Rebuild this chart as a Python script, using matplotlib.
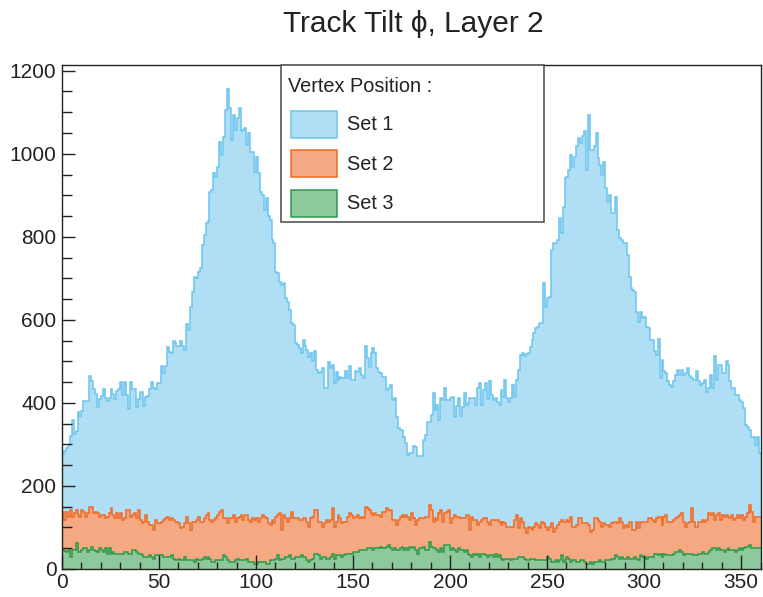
import numpy as np
import matplotlib
matplotlib.use("Agg")
import matplotlib.pyplot as plt
from matplotlib.ticker import MultipleLocator
from matplotlib.patches import Rectangle

plt.rcParams['font.family'] = ['Liberation Sans', 'DejaVu Sans']

# Histogram binning: 360 one-degree bins in phi
bin_edges = np.arange(0, 361, 1)

# Set 1 bin contents
set1 = [
    276, 284, 292, 298, 320, 360, 325, 332, 377, 369,
    381, 405, 405, 405, 464, 453, 433, 421, 389, 409,
    417, 433, 413, 405, 413, 433, 421, 409, 429, 433,
    451, 419, 451, 419, 385, 451, 433, 433, 389, 409,
    427, 427, 393, 415, 417, 433, 451, 437, 433, 449,
    449, 490, 473, 490, 534, 522, 520, 548, 544, 536,
    536, 548, 536, 528, 590, 575, 632, 668, 704, 700,
    716, 724, 781, 805, 833, 837, 909, 913, 953, 945,
    969, 1029, 997, 1041, 1106, 1156, 1110, 1033, 1094, 1058,
    1086, 1110, 1054, 1058, 1062, 1021, 1050, 1005, 1005, 957,
    993, 953, 909, 901, 865, 893, 849, 841, 793, 785,
    716, 712, 692, 684, 688, 652, 644, 624, 592, 588,
    544, 540, 532, 520, 552, 536, 528, 511, 520, 500,
    524, 479, 471, 475, 483, 435, 435, 499, 483, 491,
    447, 475, 455, 462, 459, 459, 478, 459, 490, 455,
    455, 477, 475, 483, 467, 459, 536, 507, 487, 520,
    532, 520, 483, 475, 471, 463, 463, 431, 435, 443,
    407, 411, 367, 339, 335, 335, 319, 303, 275, 279,
    279, 297, 295, 271, 271, 271, 311, 323, 355, 355,
    371, 424, 383, 395, 359, 411, 407, 436, 407, 407,
    411, 415, 367, 393, 411, 369, 391, 424, 395, 399,
    411, 411, 411, 395, 436, 448, 395, 432, 448, 409,
    452, 419, 407, 411, 403, 395, 432, 415, 456, 411,
    403, 411, 444, 415, 456, 480, 515, 520, 512, 518,
    520, 535, 552, 568, 580, 584, 592, 592, 688, 632,
    652, 656, 769, 785, 785, 793, 845, 809, 872, 941,
    945, 961, 998, 969, 993, 1018, 1038, 1026, 1042, 1054,
    961, 1094, 1010, 1010, 1018, 1050, 990, 973, 949, 981,
    917, 885, 901, 857, 857, 897, 817, 797, 793, 785,
    785, 757, 704, 676, 672, 668, 620, 596, 620, 604,
    608, 584, 580, 552, 552, 524, 516, 554, 460, 504,
    476, 472, 452, 444, 439, 452, 468, 480, 468, 480,
    468, 472, 484, 464, 460, 456, 456, 476, 452, 444,
    448, 456, 427, 435, 468, 435, 512, 456, 492, 492,
    472, 472, 500, 492, 452, 435, 435, 419, 419, 407,
    403, 387, 347, 343, 335, 319, 319, 299, 319, 279,
]

# Set 2 bin contents
set2 = [
    138, 118, 138, 126, 142, 126, 134, 142, 130, 126,
    142, 138, 126, 134, 150, 150, 134, 138, 134, 126,
    130, 130, 122, 126, 134, 147, 130, 122, 134, 122,
    134, 118, 122, 142, 142, 126, 130, 134, 122, 142,
    118, 110, 114, 130, 114, 106, 106, 94, 118, 110,
    110, 114, 118, 122, 126, 118, 122, 118, 114, 114,
    110, 98, 102, 110, 126, 110, 94, 114, 114, 118,
    126, 114, 114, 122, 130, 134, 118, 114, 118, 122,
    130, 138, 142, 122, 122, 110, 122, 122, 130, 114,
    122, 126, 130, 118, 130, 130, 118, 114, 122, 118,
    122, 114, 122, 130, 126, 122, 110, 106, 118, 110,
    126, 130, 134, 94, 130, 122, 114, 122,
    138, 122, 122, 122, 118, 118, 122, 122, 114, 102,
    122, 126, 142, 142, 114, 114, 102, 110, 118, 114,
    118, 146, 102, 114, 130, 122, 110, 114, 114, 126,
    134, 130, 122, 126, 130, 122, 126, 122, 150, 146,
    142, 134, 130, 134, 130, 130, 126, 138, 138, 146,
    142, 142, 118, 118, 106, 118, 126, 130, 126, 130,
    126, 118, 134, 122, 106, 118, 122, 122, 122, 126,
    126, 154, 142, 114, 122, 118, 134, 142, 114, 134,
    138, 142, 110, 122, 130, 126, 126, 122, 122, 122,
    130, 130, 94, 126, 118, 118, 106, 114, 118, 122,
    122, 114, 106, 118, 118, 118, 118, 114, 106, 114,
    110, 102, 102, 102, 102, 118, 130, 98,
    122, 114, 98, 86, 102, 98, 94, 102, 110, 106,
    98, 114, 110, 102, 94, 102, 110, 90, 98, 106,
    114, 118, 114, 114, 118, 114, 126, 102, 102, 106,
    122, 122, 110, 110, 110, 106, 90, 94, 122, 122,
    118, 114, 102, 110, 106, 106, 102, 110, 114, 114,
    110, 122, 114, 98, 106, 102, 114, 114, 94, 94,
    114, 98, 114, 114, 114, 114, 122, 122, 118, 114,
    122, 126, 126, 106, 126, 130, 114, 114, 114, 118,
    122, 126, 130, 134, 114, 102, 110, 114, 146, 114,
    102, 102, 114, 114, 118, 114, 118, 134, 130, 134,
    118, 130, 134, 118, 130, 126, 130, 126, 122, 130,
    118, 122, 130, 122, 130, 118, 126, 134, 154, 138,
    114, 126, 126, 126,
]

# Set 3 bin contents
set3 = [
    46, 43, 41, 46, 29, 46, 46, 62, 41, 41,
    46, 50, 50, 41, 46, 54, 46, 43, 41, 50,
    46, 41, 50, 37, 51, 37, 41, 37, 37, 37,
    37, 37, 40, 40, 37, 37, 46, 46, 41, 37,
    37, 33, 29, 29, 29, 33, 29, 25, 33, 33,
    33, 33, 29, 29, 29, 29, 33, 25, 21, 21,
    25, 21, 21, 29, 21, 21, 21, 21, 17, 25,
    21, 21, 25, 29, 25, 29, 25, 17, 17, 21,
    21, 21, 21, 33, 29, 21, 17, 17, 17, 21,
    25, 21, 21, 21, 21, 25, 17, 17, 17, 13,
    13, 17, 17, 17, 17, 13, 13, 21, 21, 21,
    25, 33, 21, 25, 25, 29, 29, 33,
    25, 25, 29, 29, 29, 33, 29, 29, 21, 17,
    21, 25, 37, 37, 33, 25, 29, 29, 25, 25,
    29, 37, 25, 33, 33, 33, 29, 33, 37, 35,
    35, 37, 41, 41, 41, 46, 46, 46, 46, 50,
    50, 50, 46, 50, 50, 51, 54, 50, 51, 54,
    58, 50, 46, 50, 46, 46, 50, 54, 46, 50,
    46, 54, 50, 54, 46, 37, 50, 50, 54, 46,
    46, 66, 54, 50, 50, 46, 41, 50, 41, 58,
    58, 58, 46, 50, 46, 41, 50, 46, 46, 41,
    46, 37, 33, 29, 37, 33, 37, 29, 37, 37,
    33, 29, 33, 33, 29, 37, 29, 33, 25, 21,
    25, 25, 25, 21, 25, 25, 25, 29,
    29, 29, 25, 21, 21, 25, 25, 25, 21, 21,
    21, 21, 21, 21, 29, 25, 17, 17, 21, 17,
    21, 33, 17, 21, 29, 25, 17, 21, 21, 17,
    17, 21, 21, 17, 13, 13, 17, 13, 17, 17,
    17, 21, 17, 17, 21, 21, 21, 25, 25, 33,
    29, 25, 29, 25, 25, 29, 25, 25, 25, 29,
    25, 21, 33, 29, 29, 25, 29, 29, 29, 37,
    37, 33, 37, 29, 37, 33, 33, 33, 33, 37,
    41, 41, 46, 41, 33, 37, 37, 37, 37, 33,
    33, 33, 37, 37, 41, 37, 37, 41, 46, 50,
    50, 46, 50, 46, 46, 41, 46, 50, 46, 46,
    46, 41, 46, 50, 46, 50, 54, 54, 58, 50,
    50, 50, 50, 50,
]

series_names = ["Set 1", "Set 2", "Set 3"]
legend_title = "Vertex Position :"
title_text = "Track Tilt \u03d5, Layer 2"
x_ticks = [0, 50, 100, 150, 200, 250, 300, 350]
y_ticks = [0, 200, 400, 600, 800, 1000, 1200]

edge_colors = ["#6cc4ee", "#f26a24", "#2e9a48"]
fill_colors = ["#afdef5", "#f5a982", "#8dc99b"]

W, H = 763, 597
fig = plt.figure(figsize=(W / 100, H / 100), dpi=100)
ax = fig.add_axes([62 / W, (H - 569) / H, 698.5 / W, (569 - 65) / H])

for vals, fc, ec in zip([set1, set2, set3], fill_colors, edge_colors):
    ax.stairs(vals, bin_edges, fill=True, color=fc, lw=0)
    ax.stairs(vals, bin_edges, fill=False, color=ec, lw=1.1, baseline=None)

ax.set_xlim(0, 360)
ax.set_ylim(0, 1.05 * max(set1))

ax.set_xticks(x_ticks)
ax.set_yticks(y_ticks)
ax.xaxis.set_minor_locator(MultipleLocator(10))
ax.yaxis.set_minor_locator(MultipleLocator(50))
ax.tick_params(axis='both', which='both', direction='in', top=False, right=False,
               labelsize=15, colors='#222222', width=1.0)
ax.tick_params(axis='x', which='major', length=10, pad=3)
ax.tick_params(axis='x', which='minor', length=5)
ax.tick_params(axis='y', which='major', length=9, pad=4)
ax.tick_params(axis='y', which='minor', length=7)
for sp in ax.spines.values():
    sp.set_color('#222222')
    sp.set_linewidth(1.0)

fig.text(413 / W, 1 - 24 / H, title_text, ha='center', va='center', fontsize=21.5, color='#222222')

# Legend box drawn in figure pixels
def fx(x):
    return x / W

def fy(y):
    return 1 - y / H

fig.patches.append(Rectangle((fx(281), fy(222)), fx(544) - fx(281), fy(65) - fy(222),
                             transform=fig.transFigure, facecolor='white', edgecolor='#555555',
                             lw=1.2, zorder=5))
fig.text(fx(288), fy(87), legend_title, ha='left', va='center', fontsize=14.3, color='#222222', zorder=6)
for k, (name, fc, ec) in enumerate(zip(series_names, fill_colors, edge_colors)):
    top = 111 + k * 39.3
    fig.patches.append(Rectangle((fx(291), fy(top + 27)), fx(337) - fx(291), fy(top) - fy(top + 27),
                                 transform=fig.transFigure, facecolor=fc, edgecolor=ec,
                                 lw=1.1, zorder=6))
    fig.text(fx(347), fy(top + 14), name, ha='left', va='center', fontsize=14.3, color='#222222', zorder=6)

fig.savefig("out.png", dpi=100)
